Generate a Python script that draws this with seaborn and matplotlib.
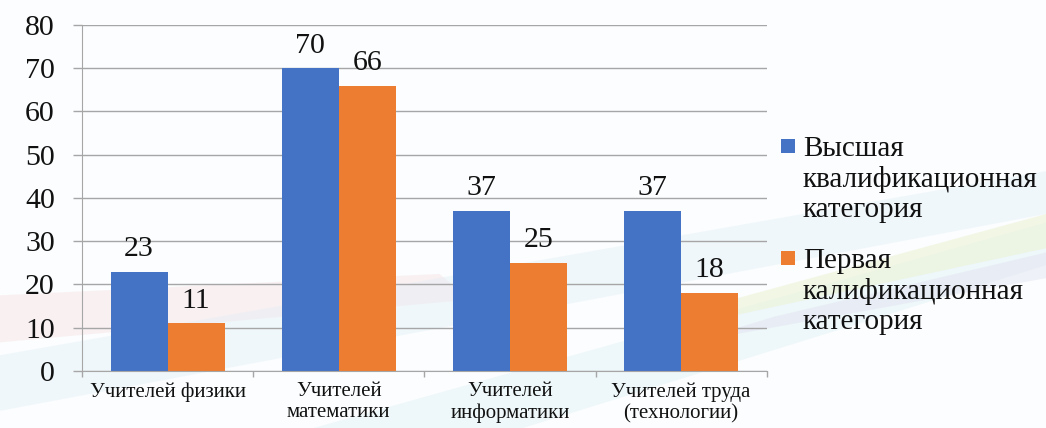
import matplotlib.pyplot as plt
import pandas as pd
import seaborn as sns
from matplotlib import font_manager
from matplotlib.patches import Polygon, Rectangle

categories = [
    "Учителей физики",
    "Учителей\nматематики",
    "Учителей\nинформатики",
    "Учителей труда\n(технологии)",
]
series_names = [
    "Высшая\nквалификационная\nкатегория",
    "Первая\nкалификационная\nкатегория",
]
highest = [23, 70, 37, 37]
first = [11, 66, 25, 18]
colors = ["#4472C4", "#ED7D31"]

SERIF_PATH = font_manager.findfont(
    font_manager.FontProperties(family="Liberation Serif")
)


def fp(size: float) -> font_manager.FontProperties:
    return font_manager.FontProperties(fname=SERIF_PATH, size=size)


def build_frame() -> pd.DataFrame:
    rows = []
    for cat, h, f in zip(categories, highest, first):
        rows.append({"cat": cat, "series": series_names[0], "value": h})
        rows.append({"cat": cat, "series": series_names[1], "value": f})
    return pd.DataFrame(rows)


def draw_background(fig) -> None:
    # faint slide-like streaks behind the chart
    streaks = [
        ([(0.0, 0.31), (0.0, 0.20), (0.45, 0.30), (0.42, 0.36)], "#F7DADD", 0.35),
        ([(0.0, 0.17), (0.0, 0.04), (1.0, 0.50), (1.0, 0.60)], "#DCEDF5", 0.35),
        ([(0.30, 0.0), (0.50, 0.0), (1.0, 0.38), (1.0, 0.48)], "#E0F1F3", 0.45),
        ([(0.62, 0.22), (1.0, 0.42), (1.0, 0.50), (0.70, 0.30)], "#ECF2D2", 0.55),
        ([(0.66, 0.20), (1.0, 0.35), (1.0, 0.41), (0.74, 0.26)], "#E2E3F2", 0.45),
    ]
    for pts, col, a in streaks:
        fig.patches.append(
            Polygon(pts, closed=True, transform=fig.transFigure,
                    facecolor=col, edgecolor="none", alpha=a, zorder=-10)
        )


def draw_legend(fig) -> None:
    # legend with the square next to the first line of each label
    W, H = 1046, 428
    square_tops = [139, 251]
    text_tops = [136, 248]
    for name, col, sq, tt in zip(series_names, colors, square_tops, text_tops):
        fig.patches.append(
            Rectangle((781 / W, 1 - (sq + 14) / H), 14 / W, 14 / H,
                      transform=fig.transFigure, facecolor=col,
                      edgecolor="none")
        )
        fig.text(803 / W, 1 - tt / H, name, fontproperties=fp(21),
                 va="top", ha="left", color="#111111", linespacing=1.2)


def plot(df: pd.DataFrame) -> None:
    plt.rcParams["font.family"] = "serif"
    plt.rcParams["font.serif"] = ["Liberation Serif", "DejaVu Serif"]

    fig = plt.figure(figsize=(10.46, 4.28), dpi=100)
    fig.patch.set_facecolor("#FBFDFE")
    draw_background(fig)

    ax = fig.add_axes([0.0784, 0.1332, 0.6546, 0.8084])
    ax.patch.set_alpha(0)

    sns.barplot(
        data=df, x="cat", y="value", hue="series", ax=ax,
        palette=colors, width=0.667, saturation=1, gap=0,
        edgecolor="none", legend=False,
    )
    for cont in ax.containers:
        labels = ax.bar_label(cont, padding=7, color="#111111")
        for t in labels:
            t.set_fontproperties(fp(21.5))

    ax.set_ylim(0, 80)
    ax.set_yticks(range(0, 81, 10))
    ax.set_xlim(-0.5, 3.5)
    ax.yaxis.grid(True, color="#A6A6A6", linewidth=1)
    ax.set_axisbelow(True)
    ax.set_xlabel("")
    ax.set_ylabel("")

    for side in ["top", "right"]:
        ax.spines[side].set_visible(False)
    ax.spines["left"].set_color("#A6A6A6")
    ax.spines["bottom"].set_color("#A6A6A6")

    ax.tick_params(axis="y", length=6.5, width=1, color="#A6A6A6", pad=13,
                   labelcolor="#111111")
    ax.set_yticklabels([str(v) for v in range(0, 81, 10)],
                       fontproperties=fp(21.5))
    ax.set_xticks([0, 1, 2, 3])
    ax.set_xticklabels(categories, fontproperties=fp(15), color="#111111",
                       linespacing=1.15)
    ax.tick_params(axis="x", length=0, pad=8)
    ax.set_xticks([-0.5, 0.5, 1.5, 2.5, 3.5], minor=True)
    ax.tick_params(axis="x", which="minor", length=4, color="#A6A6A6", width=1)

    draw_legend(fig)

    fig.savefig("out.png", dpi=100)


def main() -> None:
    df = build_frame()
    plot(df)


if __name__ == "__main__":
    main()
